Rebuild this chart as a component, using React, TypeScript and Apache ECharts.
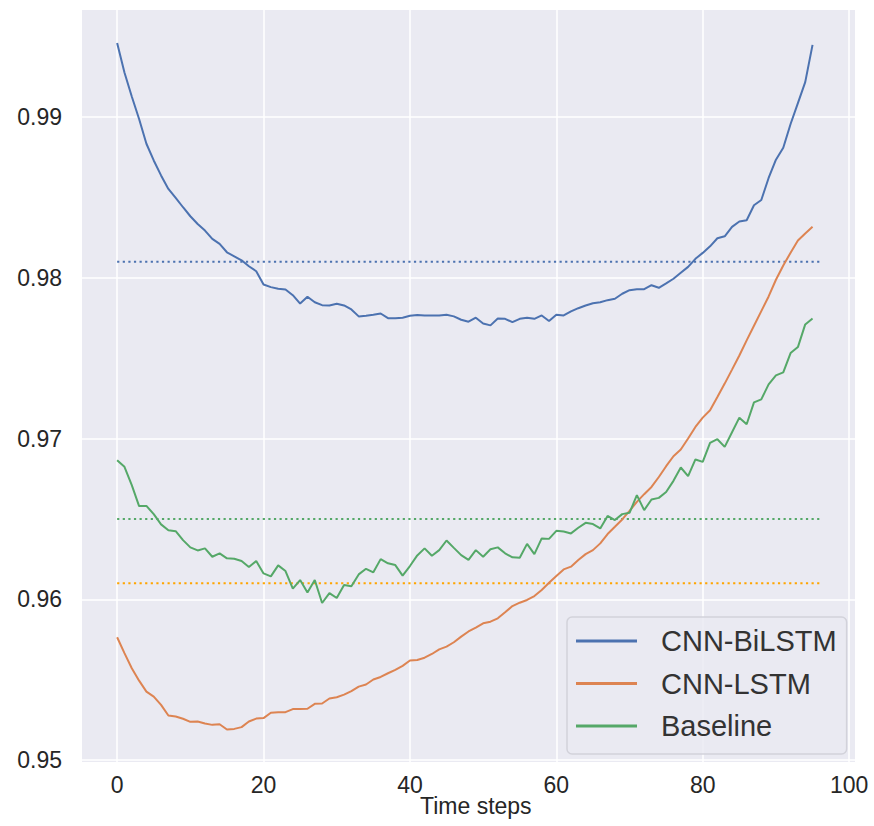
import React, { useEffect, useRef } from "react";
import * as echarts from "echarts";

const steps: number[] = Array.from({ length: 96 }, (_, i) => i);

const cnnBiLstm: number[] = [
  0.9946, 0.99277, 0.99128, 0.98988, 0.98834, 0.9873, 0.98637, 0.98553, 0.98497, 0.98439,
  0.98383, 0.98335, 0.98294, 0.98242, 0.98211, 0.98159, 0.98134, 0.98109, 0.98072, 0.98041,
  0.97958, 0.97942, 0.97932, 0.97927, 0.97892, 0.9784, 0.97882, 0.97848, 0.9783, 0.97828,
  0.97839, 0.97828, 0.97803, 0.9776, 0.97764, 0.9777, 0.97778, 0.97749, 0.97749, 0.97752,
  0.97764, 0.97768, 0.97766, 0.97766, 0.97766, 0.9777, 0.9776, 0.97739, 0.97727, 0.97752,
  0.97716, 0.97704, 0.97747, 0.97745, 0.97724, 0.97745, 0.97752, 0.97745, 0.97766, 0.97731,
  0.9777, 0.97766, 0.97791, 0.97811, 0.97828, 0.97842, 0.97848, 0.97861, 0.9787, 0.97901,
  0.97923, 0.97929, 0.97929, 0.97954, 0.97938, 0.97965, 0.97994, 0.98031, 0.98068, 0.98118,
  0.98155, 0.98196, 0.98246, 0.98258, 0.98317, 0.9835, 0.98358, 0.98451, 0.98484, 0.98621,
  0.98735, 0.98809, 0.98957, 0.99087, 0.99217, 0.99449,
];

const cnnLstm: number[] = [
  0.95764, 0.95665, 0.95571, 0.95494, 0.95426, 0.95395, 0.95343, 0.95277, 0.95271, 0.95257,
  0.95238, 0.9524, 0.95227, 0.95219, 0.95223, 0.9519, 0.95194, 0.95205, 0.9524, 0.95258,
  0.95261, 0.95294, 0.95298, 0.95298, 0.95317, 0.95317, 0.95319, 0.9535, 0.95352, 0.95383,
  0.95391, 0.95407, 0.95429, 0.95457, 0.9547, 0.95501, 0.95517, 0.9554, 0.95561, 0.95586,
  0.95619, 0.95623, 0.95637, 0.9566, 0.95689, 0.95706, 0.95733, 0.95768, 0.958, 0.95824,
  0.95851, 0.95861, 0.95882, 0.95919, 0.95958, 0.95979, 0.95996, 0.9602, 0.96058, 0.96103,
  0.96145, 0.96186, 0.96203, 0.96244, 0.96281, 0.96306, 0.96348, 0.96406, 0.96451, 0.96497,
  0.9655, 0.96606, 0.96654, 0.96699, 0.96761, 0.96828, 0.9689, 0.96932, 0.97, 0.97072,
  0.9713, 0.97176, 0.97258, 0.97342, 0.97429, 0.97517, 0.97611, 0.97702, 0.97793, 0.97884,
  0.97988, 0.98077, 0.98156, 0.98232, 0.98276, 0.98317,
];

const baseline: number[] = [
  0.96865, 0.96824, 0.9671, 0.9658, 0.96581, 0.9653, 0.96466, 0.9643, 0.96424, 0.96368,
  0.96323, 0.96304, 0.96317, 0.96265, 0.96286, 0.96255, 0.96252, 0.96238, 0.96201, 0.96238,
  0.96161, 0.96143, 0.96211, 0.96176, 0.96066, 0.9612, 0.96043, 0.9612, 0.95977, 0.96039,
  0.96008, 0.96089, 0.96081, 0.96155, 0.9619, 0.96168, 0.9625, 0.96224, 0.96213, 0.96147,
  0.96207, 0.96273, 0.96317, 0.96271, 0.96306, 0.96366, 0.9632, 0.96275, 0.96245, 0.96306,
  0.96265, 0.96311, 0.96323, 0.96286, 0.96261, 0.96259, 0.96345, 0.96281, 0.96379, 0.96376,
  0.96426, 0.96422, 0.9641, 0.96445, 0.96476, 0.96468, 0.96441, 0.96519, 0.96493, 0.9653,
  0.96538, 0.96648, 0.96555, 0.96621, 0.96631, 0.96668, 0.96737, 0.9682, 0.96766, 0.9687,
  0.96855, 0.96973, 0.96996, 0.96948, 0.97039, 0.9713, 0.97089, 0.97225, 0.97244, 0.97337,
  0.97393, 0.97412, 0.97532, 0.97569, 0.9771, 0.97747,
];

const seriesNames: string[] = ["CNN-BiLSTM", "CNN-LSTM", "Baseline"];
const seriesColors: string[] = ["#4C72B0", "#DD8452", "#55A868"];

// horizontal reference levels (dotted), spanning x from 0 to 96
const refLevels: number[] = [0.981, 0.961, 0.965];
const refColors: string[] = ["#4C72B0", "#FFA500", "#55A868"];
const refSpan: number[] = [0, 96];

const xTicks: number[] = [0, 20, 40, 60, 80, 100];
const yTicks: number[] = [0.95, 0.96, 0.97, 0.98, 0.99];

const FONT = "'Liberation Sans', Arial, Helvetica, sans-serif";

export default function App() {
  const ref = useRef<HTMLDivElement>(null);

  useEffect(() => {
    document.body.style.margin = "0";
    if (!ref.current) return;
    const chart = echarts.init(ref.current, undefined, { renderer: "svg" });

    const allSeries = [cnnBiLstm, cnnLstm, baseline];
    const lineSeries = allSeries.map((vals, k) => ({
      name: seriesNames[k],
      type: "line",
      data: steps.map((s, i) => [s, vals[i]]),
      showSymbol: false,
      symbol: "none",
      lineStyle: { color: seriesColors[k], width: 2 },
      itemStyle: { color: seriesColors[k] },
      z: 3,
    }));

    const dotted = refLevels.map((lv, k) => ({
      name: "ref" + k,
      type: "line",
      data: refSpan.map((x) => [x, lv]),
      showSymbol: false,
      symbol: "none",
      lineStyle: { color: refColors[k], width: 2, type: [2.2, 3.4] },
      z: 2,
      silent: true,
    }));

    chart.setOption({
      animation: false,
      backgroundColor: "#ffffff",
      grid: {
        left: 82,
        top: 10,
        width: 773,
        height: 752,
        show: true,
        backgroundColor: "#EAEAF2",
        borderWidth: 0,
        containLabel: false,
      },
      xAxis: {
        type: "value",
        min: -4.8,
        max: 100.8,
        axisLine: { show: false },
        axisTick: { show: false },
        axisLabel: {
          show: true,
          fontFamily: FONT,
          fontSize: 23,
          color: "#262626",
          margin: 11,
          showMinLabel: false,
          showMaxLabel: false,
          formatter: (v: number) => (xTicks.includes(Math.round(v)) && Math.abs(v - Math.round(v)) < 1e-6 ? String(Math.round(v)) : ""),
        },
        splitLine: {
          show: true,
          showMinLine: false,
          showMaxLine: false,
          lineStyle: { color: "#ffffff", width: 1.5 },
        },
      },
      yAxis: {
        type: "value",
        min: 0.94988,
        max: 0.99666,
        axisLine: { show: false },
        axisTick: { show: false },
        axisLabel: {
          show: true,
          fontFamily: FONT,
          fontSize: 23,
          color: "#262626",
          margin: 20,
          showMinLabel: false,
          showMaxLabel: false,
          formatter: (v: number) => {
            const hit = yTicks.find((t) => Math.abs(t - v) < 1e-7);
            return hit !== undefined ? hit.toFixed(2) : "";
          },
        },
        splitLine: {
          show: true,
          showMinLine: false,
          showMaxLine: false,
          lineStyle: { color: "#ffffff", width: 1.5 },
        },
      },
      legend: {
        data: seriesNames.map((n) => ({ name: n, icon: "rect" })),
        orient: "vertical",
        left: 567,
        top: 617,
        padding: [7, 10, 11, 9],
        itemWidth: 61,
        itemHeight: 3,
        itemGap: 8.5,
        backgroundColor: "rgba(234,234,242,0.85)",
        borderColor: "#D2D2DA",
        borderWidth: 1.5,
        borderRadius: 5,
        textStyle: {
          fontFamily: FONT,
          fontSize: 29,
          color: "#333333",
          lineHeight: 34,
          padding: [0, 0, 0, 19],
        },
      },
      graphic: [
        {
          type: "text",
          left: 478 - 58,
          top: 794,
          style: {
            text: "Time steps",
            font: "23px " + FONT,
            fill: "#262626",
          },
        },
      ],
      series: [...dotted, ...lineSeries],
    });

    return () => chart.dispose();
  }, []);

  return (
    <div
      ref={ref}
      style={{ position: "absolute", left: 0, top: 0, width: 874, height: 826 }}
    />
  );
}
